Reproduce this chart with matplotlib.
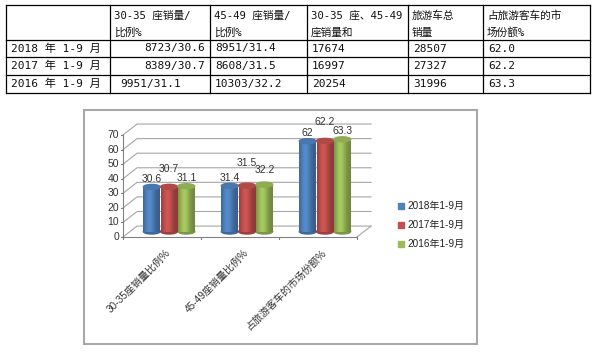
import numpy as np
import matplotlib
matplotlib.use('Agg')
import matplotlib.pyplot as plt
from matplotlib.patches import Rectangle, Ellipse
from matplotlib.colors import to_rgb

# ---- data ----
row_labels = ['2018 年 1-9 月', '2017 年 1-9 月', '2016 年 1-9 月']
headers = ['', '30-35 座销量/\n比例%', '45-49 座销量/\n比例%', '30-35 座、45-49\n座销量和',
           '旅游车总\n销量', '占旅游客车的市\n场份额%']
sales_3035 = [8723, 8389, 9951]
share_3035 = [30.6, 30.7, 31.1]
sales_4549 = [8951, 8608, 10303]
share_4549 = [31.4, 31.5, 32.2]
sum_sales = [17674, 16997, 20254]
tour_total = [28507, 27327, 31996]
market_share = [62.0, 62.2, 63.3]

categories = ['30-35座销量比例%', '45-49座销量比例%', '占旅游客车的市场份额%']
series_names = ['2018年1-9月', '2017年1-9月', '2016年1-9月']
colors = ['#4F81BD', '#C0504D', '#9BBB59']
yticks = [0, 10, 20, 30, 40, 50, 60, 70]

CJK = ['Liberation Sans', 'Noto Sans CJK SC']
MONO = ['DejaVu Sans Mono', 'Noto Sans CJK SC']

fig = plt.figure(figsize=(6, 3.52), dpi=100)

# background axes in pixel coords (table, frame, legend)
bg = fig.add_axes([0, 0, 1, 1])
bg.set_xlim(0, 600)
bg.set_ylim(352, 0)
bg.axis('off')

# ---- table ----
col_x = [6, 110, 210, 307, 408, 483, 590]
row_y = [5, 40, 57, 75, 93]
for x in col_x:
    bg.plot([x, x], [row_y[0], row_y[-1]], color='black', lw=0.9)
for y in row_y:
    bg.plot([col_x[0], col_x[-1]], [y, y], color='black', lw=0.9)

for c, h in enumerate(headers):
    for k, ln in enumerate(h.split('\n')):
        bg.text(col_x[c] + 4, 16 + k * 17, ln, family=MONO, fontsize=7.7,
                ha='left', va='center', color='#111111')

cells = []
for i in range(3):
    cells.append([row_labels[i],
                  '%d/%.1f' % (sales_3035[i], share_3035[i]),
                  '%d/%.1f' % (sales_4549[i], share_4549[i]),
                  str(sum_sales[i]), str(tour_total[i]), '%.1f' % market_share[i]])
for i, row in enumerate(cells):
    yc = (row_y[i + 1] + row_y[i + 2]) / 2
    for c, txt in enumerate(row):
        if c == 1 and i < 2:
            bg.text(col_x[2] - 5, yc, txt, family=MONO, fontsize=8, ha='right', va='center', color='#111111')
        elif c == 1:
            bg.text(col_x[1] + 10, yc, txt, family=MONO, fontsize=8, ha='left', va='center', color='#111111')
        else:
            bg.text(col_x[c] + 5, yc, txt, family=MONO, fontsize=8, ha='left', va='center', color='#111111')

# chart frame
bg.add_patch(Rectangle((84, 110), 393, 234, fill=False, ec='#a8a8a8', lw=1.5))

# legend
for i, name in enumerate(series_names):
    yy = 206 + i * 19
    bg.add_patch(Rectangle((398, yy - 3), 6, 6, color=colors[i]))
    bg.text(407, yy, name, family=CJK, fontsize=7.2, ha='left', va='center', color='#222222')

# ---- chart axes ----
ax = fig.add_axes([115 / 600, (352 - 245) / 352, 265 / 600, 130 / 352])
ax.axis('off')

ddx, ddy = 0.18, 7.5
gcol = '#a6a6a6'
x0, x1 = -0.5, 2.5
for t in yticks:
    ax.plot([x0, x0 + ddx, x1 + ddx], [t, t + ddy, t + ddy], color=gcol, lw=0.8)
    ax.plot([x0 - 0.03, x0], [t, t], color='#808080', lw=0.8)
    ax.text(x0 - 0.05, t, str(t), ha='right', va='center', fontsize=7.5,
            family=CJK, color='#333333')
ax.plot([x0, x0], [0, yticks[-1]], color='#808080', lw=0.8)
ax.plot([x1, x1 + ddx], [0, ddy], color=gcol, lw=0.8)
ax.plot([x0, x1], [0, 0], color='#808080', lw=0.8)
for xb in np.arange(x0, x1 + 0.01, 1.0):
    ax.plot([xb, xb], [0, -1.6], color='#808080', lw=0.8)

# cylinders
values = np.array([share_3035, share_4549, market_share]).T  # series x category
bw = 0.215
eh = 3.4
prof = np.linspace(0, 1, 64)
shade = 0.72 + 0.36 * np.exp(-((prof - 0.38) / 0.32) ** 2)
label_off = [[8, 8, 8], [18, 23, 19], [8, 15, 8]]
for i in range(3):
    base = np.array(to_rgb(colors[i]))
    grad = np.clip(base[None, :] * shade[:, None], 0, 1)[None, :, :]
    for j in range(3):
        v = values[i, j]
        xc = j + (i - 1) * 0.222 + ddx / 2
        bot = ddy / 2
        top = v + ddy / 2
        ax.add_patch(Ellipse((xc, bot), bw, eh, color=base * 0.8, zorder=3))
        rect = Rectangle((xc - bw / 2, bot), bw, top - bot, fc='none', ec='none', zorder=4)
        ax.add_patch(rect)
        im = ax.imshow(grad, extent=(xc - bw / 2, xc + bw / 2, bot, top), aspect='auto',
                       zorder=4, interpolation='bilinear')
        im.set_clip_path(rect)
        ax.add_patch(Ellipse((xc, top), bw, eh, color=np.clip(base * 0.92, 0, 1), zorder=5))
        ax.annotate('%g' % v, (xc, top), xytext=(0, label_off[i][j]), textcoords='offset pixels',
                    ha='center', va='center', fontsize=7.5, family=CJK, color='#333333', zorder=6)
ax.set_xlim(-0.603, 2.795)
ax.set_ylim(-5.49, 83.7)

for j, cat in enumerate(categories):
    ax.text(j + 0.04, -7.5, cat, rotation=45, rotation_mode='anchor', ha='right', va='top',
            fontsize=7.2, family=CJK, color='#333333')

fig.savefig('out.png', dpi=100)
